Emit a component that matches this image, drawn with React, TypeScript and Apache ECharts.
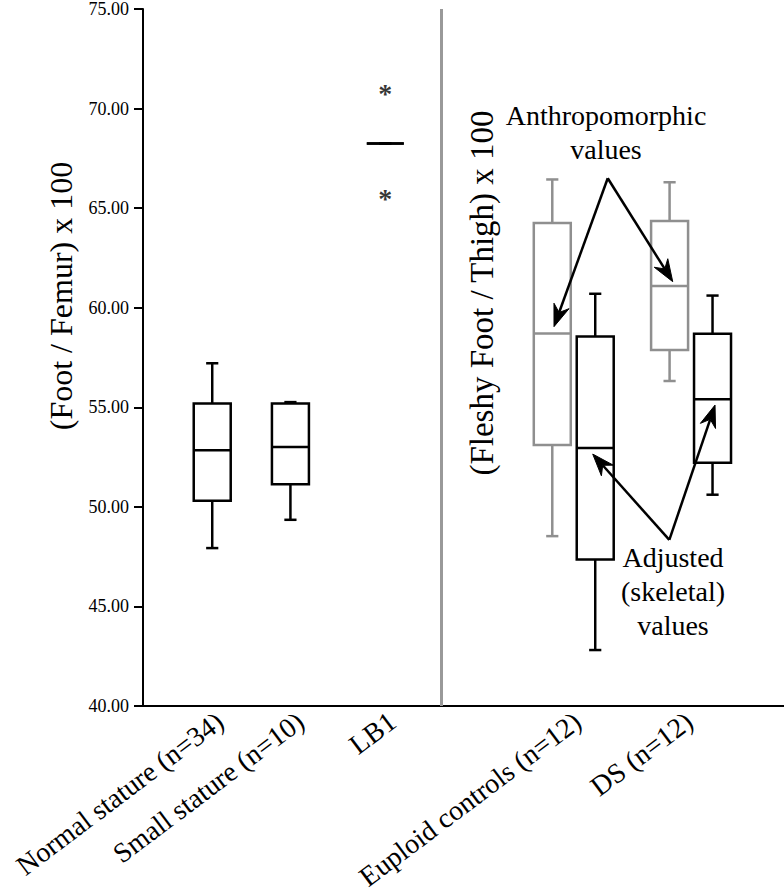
import React, { useEffect, useRef } from 'react';
import * as echarts from 'echarts';

// ---------- data ----------
const categories = [
  'Normal stature (n=34)',
  'Small stature (n=10)',
  'LB1',
  'Euploid controls (n=12)',
  'DS (n=12)',
];
// positions of the groups on a 0-100 horizontal scale
const groupPos = [10.8, 23.0, 37.8, 67.2, 85.5];
// positions where the category labels end
const labelPos = [12.0, 24.55, 38.9, 67.8, 85.2];
const pairOffset = 3.35;
const separatorPos = 46.5;

const yMin = 40;
const yMax = 75;
const yInterval = 5;

// [min, Q1, median, Q3, max]
const normalStature = [47.93, 50.31, 52.84, 55.19, 57.21];
const smallStature = [49.35, 51.13, 53.01, 55.19, 55.26];
const lb1 = [68.25, 68.25, 68.25, 68.25, 68.25];
const lb1Outliers = [70.97, 65.69];
const euploidAnthropomorphic = [48.53, 53.1, 58.7, 64.26, 66.44];
const euploidSkeletal = [42.81, 47.36, 52.96, 58.55, 60.7];
const dsAnthropomorphic = [56.32, 57.88, 61.09, 64.36, 66.3];
const dsSkeletal = [50.61, 52.22, 55.4, 58.69, 60.61];

// annotation anchor points in data coordinates [x, y]
const anthroApex = [72.5, 66.5];
const anthroTips = [
  [64.12, 59.05],
  [82.64, 61.31],
];
const adjustedApex = [82.11, 48.34];
const adjustedTips = [
  [70.16, 52.65],
  [89.24, 55.11],
];

const FAMILY = 'Liberation Serif';
const BLACK = '#000000';
const GREY = '#8f8f8f';
const BOX_W = 5.77;
const CAP_W = 1.9;

function makeRenderItem(color: string) {
  return (params: any, api: any) => {
    const x = api.value(0);
    const vals = [1, 2, 3, 4, 5].map((i) => api.value(i));
    const pts = vals.map((v) => api.coord([x, v]));
    const cx = pts[0][0];
    const half = api.size([BOX_W, 0])[0] / 2;
    const cap = api.size([CAP_W, 0])[0] / 2;
    const yMinP = pts[0][1];
    const yQ1 = pts[1][1];
    const yMed = pts[2][1];
    const yQ3 = pts[3][1];
    const yMaxP = pts[4][1];
    const style = { stroke: color, lineWidth: 2.5, fill: null };
    return {
      type: 'group',
      children: [
        { type: 'line', shape: { x1: cx, y1: yMinP, x2: cx, y2: yQ1 }, style },
        { type: 'line', shape: { x1: cx - cap, y1: yMinP, x2: cx + cap, y2: yMinP }, style },
        { type: 'line', shape: { x1: cx, y1: yQ3, x2: cx, y2: yMaxP }, style },
        { type: 'line', shape: { x1: cx - cap, y1: yMaxP, x2: cx + cap, y2: yMaxP }, style },
        {
          type: 'rect',
          shape: { x: cx - half, y: yQ3, width: half * 2, height: yQ1 - yQ3 },
          style: { stroke: color, lineWidth: 2.5, fill: 'none' },
        },
        { type: 'line', shape: { x1: cx - half, y1: yMed, x2: cx + half, y2: yMed }, style },
      ],
    };
  };
}

function arrow(a: number[], t: number[]) {
  const dx = t[0] - a[0];
  const dy = t[1] - a[1];
  const len = Math.sqrt(dx * dx + dy * dy);
  const ux = dx / len;
  const uy = dy / len;
  const nx = -uy;
  const ny = ux;
  const L = 22;
  const W = 8;
  const notch = 7;
  const back = [t[0] - ux * L, t[1] - uy * L];
  const n = [t[0] - ux * (L - notch), t[1] - uy * (L - notch)];
  return [
    {
      type: 'line',
      shape: { x1: a[0], y1: a[1], x2: n[0], y2: n[1] },
      style: { stroke: BLACK, lineWidth: 2.5 },
      z: 100,
    },
    {
      type: 'polygon',
      shape: {
        points: [
          t,
          [back[0] + nx * W, back[1] + ny * W],
          n,
          [back[0] - nx * W, back[1] - ny * W],
        ],
      },
      style: { fill: BLACK, stroke: BLACK, lineWidth: 1 },
      z: 100,
    },
  ];
}

function textEl(text: string, x: number, y: number, size: number, rotation = 0, lineHeight?: number) {
  return {
    type: 'text',
    x,
    y,
    rotation,
    z: 100,
    style: {
      legacy: false,
      text,
      font: `${size}px "${FAMILY}"`,
      fontSize: size,
      fontFamily: FAMILY,
      lineHeight: lineHeight || Math.round(size * 1.2),
      fill: BLACK,
      align: 'center',
      verticalAlign: 'middle',
    },
  };
}

export default function App() {
  const ref = useRef<HTMLDivElement>(null);

  useEffect(() => {
    if (!ref.current) return;
    const chart = echarts.init(ref.current, null, { renderer: 'svg' });

    const blackData = [
      [groupPos[0], ...normalStature],
      [groupPos[1], ...smallStature],
      [groupPos[2], ...lb1],
      [groupPos[3] + pairOffset, ...euploidSkeletal],
      [groupPos[4] + pairOffset, ...dsSkeletal],
    ];
    const greyData = [
      [groupPos[3] - pairOffset, ...euploidAnthropomorphic],
      [groupPos[4] - pairOffset, ...dsAnthropomorphic],
    ];

    const option: any = {
      animation: false,
      backgroundColor: '#ffffff',
      textStyle: { fontFamily: FAMILY },
      grid: {
        left: 143,
        right: 0,
        top: 9,
        bottom: 186,
        containLabel: false,
        outerBoundsMode: 'none',
      },
      xAxis: {
        type: 'value',
        min: 0,
        max: 100,
        splitLine: { show: false },
        axisTick: { show: false },
        axisLine: { show: true, onZero: false, lineStyle: { color: BLACK, width: 2 } },
        axisLabel: {
          customValues: labelPos,
          formatter: (v: number) => {
            const i = labelPos.indexOf(v);
            return i >= 0 ? categories[i] : '';
          },
          rotate: 37,
          margin: 12,
          fontSize: 28,
          fontFamily: FAMILY,
          color: BLACK,
        },
      },
      yAxis: {
        type: 'value',
        min: yMin,
        max: yMax,
        interval: yInterval,
        splitLine: { show: false },
        axisLine: { show: true, lineStyle: { color: BLACK, width: 2 } },
        axisTick: { show: true, length: 9, lineStyle: { color: BLACK, width: 2 } },
        axisLabel: {
          formatter: (v: number) => v.toFixed(2),
          fontSize: 18,
          fontFamily: FAMILY,
          color: BLACK,
          margin: 14,
        },
      },
      series: [
        {
          type: 'custom',
          name: 'Skeletal',
          renderItem: makeRenderItem(BLACK),
          data: blackData,
          encode: { x: 0, y: [1, 2, 3, 4, 5] },
          z: 10,
        },
        {
          type: 'custom',
          name: 'Anthropomorphic',
          renderItem: makeRenderItem(GREY),
          data: greyData,
          encode: { x: 0, y: [1, 2, 3, 4, 5] },
          z: 10,
        },
        {
          type: 'scatter',
          name: 'LB1 outliers',
          data: lb1Outliers.map((v) => [groupPos[2], v]),
          symbolSize: 0.1,
          itemStyle: { color: 'rgba(0,0,0,0)' },
          label: {
            show: true,
            formatter: '*',
            position: 'inside',
            fontSize: 28,
            fontWeight: 'bold',
            fontFamily: FAMILY,
            color: BLACK,
            offset: [0, 4],
          },
          markLine: {
            silent: true,
            symbol: ['none', 'none'],
            label: { show: false },
            lineStyle: { color: '#999999', width: 3, type: 'solid' },
            data: [{ xAxis: separatorPos }],
          },
          z: 5,
        },
      ],
    };
    chart.setOption(option);

    const px = (p: number[]) => chart.convertToPixel({ gridIndex: 0 }, p) as number[];
    const aApex = px(anthroApex);
    const dApex = px(adjustedApex);
    const arrows = [
      ...arrow(aApex, px(anthroTips[0])),
      ...arrow(aApex, px(anthroTips[1])),
      ...arrow(dApex, px(adjustedTips[0])),
      ...arrow(dApex, px(adjustedTips[1])),
    ];

    chart.setOption({
      graphic: [
        textEl('(Foot / Femur) x 100', 61, 296, 32, Math.PI / 2),
        textEl('(Fleshy Foot / Thigh) x 100', 482, 293, 33, Math.PI / 2),
        textEl('Anthropomorphic\nvalues', 606, 132, 28, 0, 34),
        textEl('Adjusted\n(skeletal)\nvalues', 673, 591, 28, 0, 34),
        ...arrows,
      ],
    });

    return () => chart.dispose();
  }, []);

  return (
    <div
      ref={ref}
      style={{ position: 'fixed', left: 0, top: 0, width: 784, height: 892, background: '#fff' }}
    />
  );
}
